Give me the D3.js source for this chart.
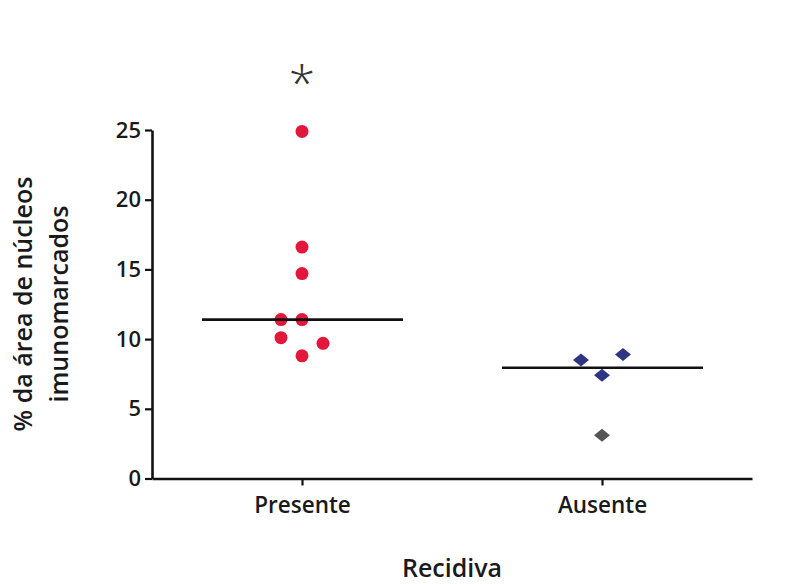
<!DOCTYPE html>
<html>
<head>
<meta charset="utf-8">
<script src="https://cdn.jsdelivr.net/npm/d3@7"></script>
<style>
  html, body { margin: 0; padding: 0; background: #ffffff; }
  svg { display: block; }
  text { font-family: "Open Sans", Lato, sans-serif; }
</style>
</head>
<body>
<svg id="chart" width="809" height="584"></svg>
<script>
// ---- data ----
const categories = ["Presente", "Ausente"];
const presenteValues = [24.9, 16.6, 14.7, 11.4, 11.4, 10.1, 9.7, 8.8];
const presenteSlots  = [0, 0, 0, -1, 0, -1, 1, 0];
const ausenteValues  = [8.9, 8.5, 7.4, 3.1];
const ausenteSlots   = [1, -1, 0, 0];
const yTicks = [0, 5, 10, 15, 20, 25];
const significance = ["*", ""];
const yTitleLines = ["% da área de núcleos", "imunomarcados"];
const xTitle = "Recidiva";

// ---- styles ----
const red = "#e3173c";
const blue = "#2f3585";
const ausenteColors = [blue, blue, blue, "#555555"];

const svg = d3.select("#chart");
const x = d3.scalePoint().domain(categories).range([152, 752]).padding(0.5);
const y = d3.scaleLinear().domain([0, 25]).range([478.5, 130]);
const slotStep = 21;

// y axis
const yAxis = svg.append("g")
  .attr("transform", "translate(152,0)")
  .call(d3.axisLeft(y).tickValues(yTicks).tickSize(7).tickSizeOuter(0).tickPadding(4));
yAxis.select(".domain").attr("stroke", "#111").attr("stroke-width", 2.6);
yAxis.selectAll(".tick line").attr("stroke", "#111").attr("stroke-width", 2.2);
yAxis.selectAll(".tick text").attr("font-size", 22).attr("font-weight", 600).attr("fill", "#1a1a1a");

// x axis
const xAxis = svg.append("g")
  .attr("transform", `translate(0,${y(0)})`)
  .call(d3.axisBottom(x).tickSize(7).tickSizeOuter(0).tickPadding(12));
xAxis.select(".domain").attr("stroke", "#111").attr("stroke-width", 2.6);
xAxis.selectAll(".tick line").attr("stroke", "#111").attr("stroke-width", 2.2);
xAxis.selectAll(".tick text").attr("font-size", 22.5).attr("font-weight", 600).attr("fill", "#1a1a1a");

// points
const presente = presenteValues.map((v, i) => ({v, s: presenteSlots[i]}));
svg.append("g").selectAll("circle").data(presente).join("circle")
  .attr("cx", d => x("Presente") + d.s * slotStep)
  .attr("cy", d => y(d.v))
  .attr("r", 6.5)
  .attr("fill", red);

const ausente = ausenteValues.map((v, i) => ({v, s: ausenteSlots[i], c: ausenteColors[i]}));
svg.append("g").selectAll("path").data(ausente).join("path")
  .attr("d", d3.symbol().type(d3.symbolSquare).size(105))
  .attr("transform", d => `translate(${x("Ausente") + d.s * slotStep},${y(d.v)}) scale(1.1,0.9) rotate(45)`)
  .attr("fill", d => d.c);

// median lines
const medians = [d3.median(presenteValues), d3.median(ausenteValues)];
svg.append("g").selectAll("line").data(categories).join("line")
  .attr("x1", d => x(d) - 100)
  .attr("x2", d => x(d) + 101)
  .attr("y1", (d, i) => y(medians[i]))
  .attr("y2", (d, i) => y(medians[i]))
  .attr("stroke", "#111").attr("stroke-width", 2.6);

// significance
svg.append("g").selectAll("text").data(categories).join("text")
  .attr("x", d => x(d))
  .attr("y", 100)
  .attr("text-anchor", "middle")
  .attr("font-family", "DejaVu Sans")
  .attr("font-size", 48)
  .attr("font-weight", 300)
  .attr("fill", "#333")
  .text((d, i) => significance[i]);

// titles
const yt = svg.append("text")
  .attr("transform", "translate(0,304) rotate(-90)")
  .attr("text-anchor", "middle")
  .attr("font-size", 25).attr("font-weight", 600).attr("fill", "#1a1a1a");
yt.selectAll("tspan").data(yTitleLines).join("tspan")
  .attr("x", 0)
  .attr("y", (d, i) => 32 + i * 36)
  .text(d => d);

svg.append("text")
  .attr("x", 452).attr("y", 577)
  .attr("text-anchor", "middle")
  .attr("font-size", 25).attr("font-weight", 600).attr("fill", "#1a1a1a")
  .text(xTitle);
</script>
</body>
</html>
